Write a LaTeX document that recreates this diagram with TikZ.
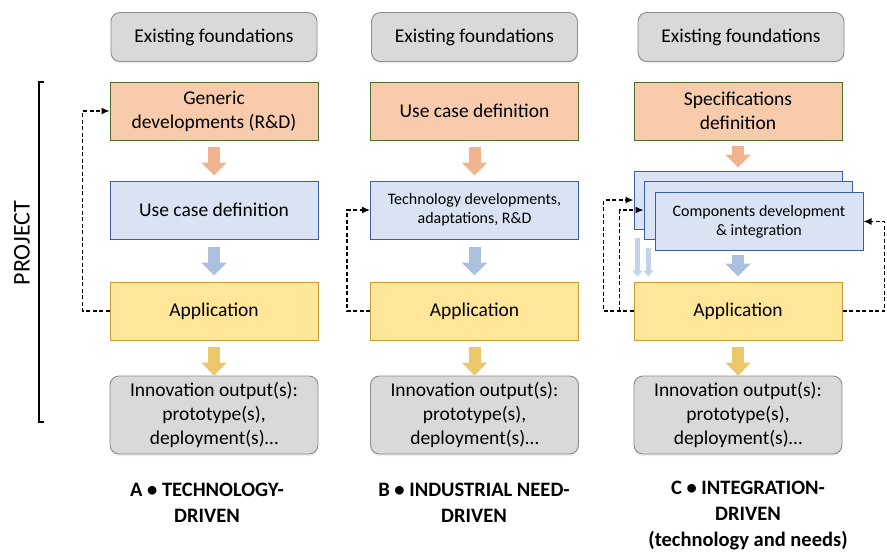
\documentclass[tikz,border=0pt]{standalone}
\usepackage{fontspec}
\setmainfont{Carlito}
\usetikzlibrary{arrows.meta,shadows,calc}
\definecolor{greyfill}{HTML}{D9D9D9}
\definecolor{greyline}{HTML}{8C8C8C}
\definecolor{orangefill}{HTML}{F8CBAD}
\definecolor{orangeline}{HTML}{4E6B2A}
\definecolor{bluefill}{HTML}{DAE3F3}
\definecolor{blueline}{HTML}{3A5E9E}
\definecolor{yellowfill}{HTML}{FFE699}
\definecolor{yellowline}{HTML}{CC9A30}
\definecolor{orangearr}{HTML}{F1B48E}
\definecolor{bluearr}{HTML}{AAC0DE}
\definecolor{yellowarr}{HTML}{EBC76A}
\definecolor{thinarr}{HTML}{C2D4EA}
\tikzset{found/.style={rectangle,rounded corners=9pt,draw=greyline,fill=greyfill,line width=0.9pt,minimum width=206pt,minimum height=49pt,align=center,drop shadow={shadow xshift=0pt,shadow yshift=-2pt,opacity=0.12}}}
\tikzset{outp/.style={found,minimum width=208pt,minimum height=78pt}}
\tikzset{spec/.style={rectangle,draw=orangeline,fill=orangefill,line width=1pt,minimum width=208pt,minimum height=58pt,align=center}}
\tikzset{dev/.style={spec,draw=blueline,fill=bluefill}}
\tikzset{appl/.style={spec,draw=yellowline,fill=yellowfill}}
\tikzset{small/.style={font=\fontsize{16}{19}\selectfont}}
\tikzset{lbl/.style={align=center,font=\fontsize{20.5}{26}\selectfont\bfseries}}
\tikzset{barr/.style={line width=12pt,-{Triangle[width=25pt,length=13pt]}}}
\tikzset{tarr/.style={line width=5pt,thinarr,-{Triangle[width=10pt,length=6pt]}}}
\tikzset{fb/.style={->,line width=1.2pt,dash pattern=on 4pt off 2.5pt}}

\begin{document}
\begin{tikzpicture}[x=1pt,y=-1pt,>={Latex[length=8pt,width=7pt]},font=\fontsize{19.5}{24}\selectfont]
    \useasboundingbox (0,0) rectangle (887,555);

    % A: technology-driven
    \node[found] (fndA) at (214,37) {Existing foundations};
    \node[spec] (genA) at (214,111) {Generic\\developments (R\&D)};
    \node[dev] (useA) at (214,210) {Use case definition};
    \node[appl] (appA) at (214,311) {Application};
    \node[outp] (outA) at (214,415) {Innovation output(s):\\prototype(s),\\deployment(s)\dots};
    \node[lbl] (lblA) at (207,503) {A • TECHNOLOGY-\\DRIVEN};

    % B: industrial need-driven
    \node[found] (fndB) at (474.5,37) {Existing foundations};
    \node[spec] (useB) at (474.5,111) {Use case definition};
    \node[dev,small] (techB) at (474.5,210) {Technology developments,\\adaptations, R\&D};
    \node[appl] (appB) at (474.5,311) {Application};
    \node[outp] (outB) at (474.5,415) {Innovation output(s):\\prototype(s),\\deployment(s)\dots};
    \node[lbl] (lblB) at (474,503) {B • INDUSTRIAL NEED-\\DRIVEN};

    % C: integration-driven
    \node[found] (fndC) at (741,37) {Existing foundations};
    \node[spec] (specC) at (738,111) {Specifications\\definition};
    \node[dev] (compC1) at (738,200) {};
    \node[dev] (compC2) at (748,210) {};
    \node[dev,small] (compC3) at (759,221.5) {Components development\\\& integration};
    \node[appl] (appC) at (738,311) {Application};
    \node[outp] (outC) at (738,415) {Innovation output(s):\\prototype(s),\\deployment(s)\dots};
    \node[lbl] (lblC) at (748,516) {C • INTEGRATION-\\DRIVEN\\(technology and needs)};

    % project bracket
    \coordinate (prjT) at (39,82);
    \coordinate (prjB) at (39,422);
    \draw[line width=1.3pt] ($(prjT)+(5,0)$) -- (prjT) -- (prjB) -- ($(prjB)+(5,0)$);
    \node[rotate=90,font=\fontsize{24}{28}\selectfont] (prj) at (22,243) {PROJECT};

    % block arrows
    \draw[barr,orangearr] ([yshift=-6pt]genA.south) -- ([yshift=5pt]useA.north);
    \draw[barr,bluearr] ([yshift=-7pt]useA.south) -- ([yshift=6pt]appA.north);
    \draw[barr,yellowarr] ([yshift=-6pt]appA.south) -- (outA.north);
    \draw[barr,orangearr] ([yshift=-6pt]useB.south) -- ([yshift=5pt]techB.north);
    \draw[barr,bluearr] ([yshift=-7pt]techB.south) -- ([yshift=6pt]appB.north);
    \draw[barr,yellowarr] ([yshift=-6pt]appB.south) -- (outB.north);
    \draw[barr,orangearr] ([yshift=-5pt]specC.south) -- ([yshift=3pt]compC1.north);
    \draw[barr,bluearr] ($(compC3.south -| appC.north)+(0,4)$) -- ([yshift=5pt]appC.north);
    \draw[barr,yellowarr] ([yshift=-6pt]appC.south) -- (outC.north);
    \draw[tarr] ($(compC1.south west)+(4,8)$) -- ($(compC1.south west |- appC.north)+(4,-5)$);
    \draw[tarr] ($(compC2.south west)+(5,8)$) -- ($(compC2.south west |- appC.north)+(5,-5)$);

    % feedback loops
    \draw[fb] (appA.west) -- ++(-27,0) |- (genA.west);
    \draw[fb] (appB.west) -- ++(-23,0) |- (techB.west);
    \draw[fb] (appC.west) -- ++(-30,0) |- (compC1.west);
    \draw[fb] ($(appC.west)+(-14,0)$) |- (compC2.west);
    \draw[fb] (appC.east) -- ++(42,0) |- (compC3.east);
\end{tikzpicture}
\end{document}
